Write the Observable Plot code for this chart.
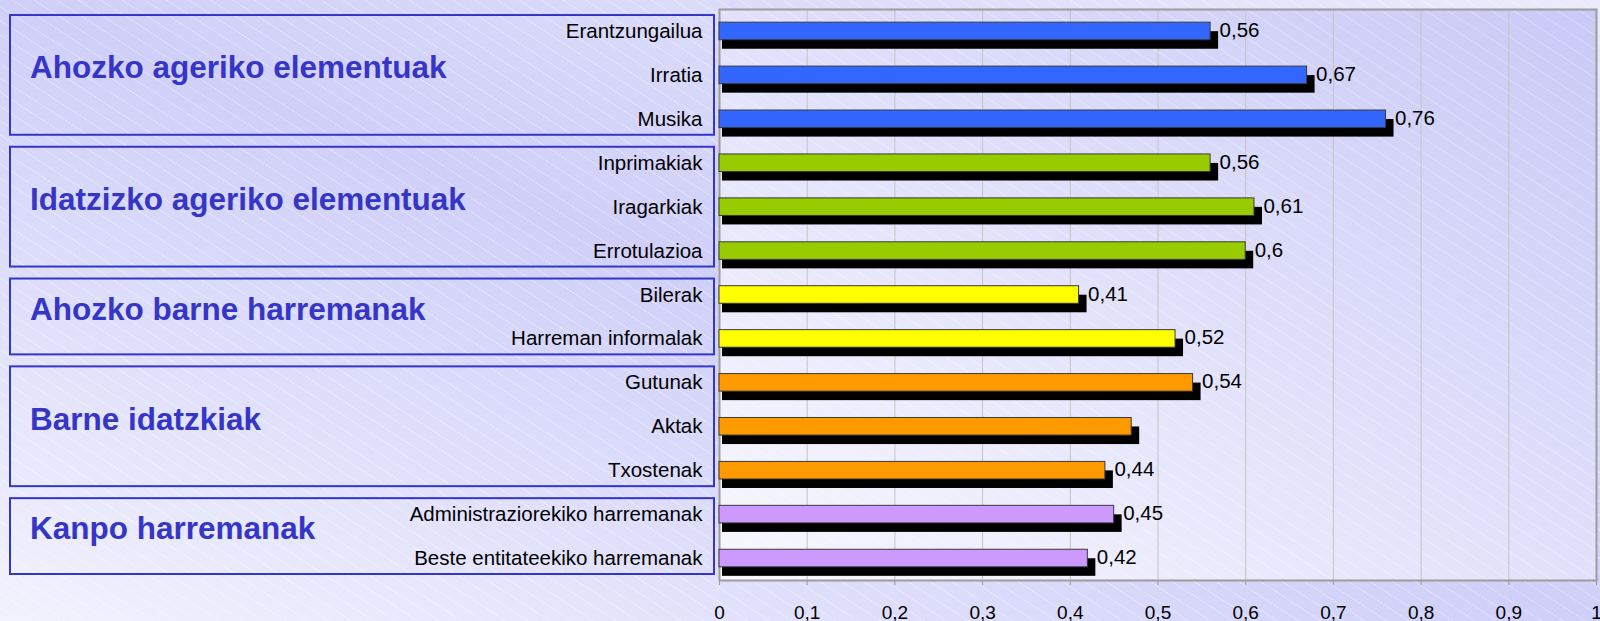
<!DOCTYPE html>
<html>
<head>
<meta charset="utf-8">
<script src="https://cdn.jsdelivr.net/npm/d3@7"></script>
<script src="https://cdn.jsdelivr.net/npm/@observablehq/plot@0.6"></script>
<style>
html, body { margin: 0; padding: 0; }
body {
  width: 1600px; height: 621px; overflow: hidden;
  background:
    repeating-linear-gradient(33deg, rgba(255,255,255,0) 0px, rgba(255,255,255,0) 11px, rgba(255,255,255,0.3) 11px, rgba(255,255,255,0.3) 12px),
    linear-gradient(to top right, #f2f2fe 0%, #cfcff9 50%, #ebebfc 100%);
}
#chart svg { display: block; }
</style>
</head>
<body>
<svg width="0" height="0" style="position:absolute">
  <defs>
    <linearGradient id="plotBg" x1="0" y1="1" x2="1" y2="0">
      <stop offset="0" stop-color="#f8f8ff"/>
      <stop offset="1" stop-color="#c9c9f7"/>
    </linearGradient>
    <pattern id="hatch" width="12" height="12" patternUnits="userSpaceOnUse" patternTransform="rotate(33)">
      <line x1="0" y1="0.5" x2="12" y2="0.5" stroke="white" stroke-opacity="0.28" stroke-width="1"/>
    </pattern>
  </defs>
</svg>
<div id="chart"></div>
<script>
// ---- data ----
const categories = [
  "Erantzungailua", "Irratia", "Musika",
  "Inprimakiak", "Iragarkiak", "Errotulazioa",
  "Bilerak", "Harreman informalak",
  "Gutunak", "Aktak", "Txostenak",
  "Administraziorekiko harremanak", "Beste entitateekiko harremanak"
];
const values = [0.56, 0.67, 0.76, 0.56, 0.61, 0.60, 0.41, 0.52, 0.54, 0.47, 0.44, 0.45, 0.42];
const valueLabels = ["0,56", "0,67", "0,76", "0,56", "0,61", "0,6", "0,41", "0,52", "0,54", "", "0,44", "0,45", "0,42"];
const groups = [
  "Ahozko ageriko elementuak",
  "Idatzizko ageriko elementuak",
  "Ahozko barne harremanak",
  "Barne idatzkiak",
  "Kanpo harremanak"
];
const groupOf = [
  "Ahozko ageriko elementuak", "Ahozko ageriko elementuak", "Ahozko ageriko elementuak",
  "Idatzizko ageriko elementuak", "Idatzizko ageriko elementuak", "Idatzizko ageriko elementuak",
  "Ahozko barne harremanak", "Ahozko barne harremanak",
  "Barne idatzkiak", "Barne idatzkiak", "Barne idatzkiak",
  "Kanpo harremanak", "Kanpo harremanak"
];
const groupColors = ["#3366ff", "#99cc00", "#ffff00", "#ff9900", "#cc99ff"];
const xTicks = [0, 0.1, 0.2, 0.3, 0.4, 0.5, 0.6, 0.7, 0.8, 0.9, 1];
const xTickLabels = ["0", "0,1", "0,2", "0,3", "0,4", "0,5", "0,6", "0,7", "0,8", "0,9", "1"];

const rows = categories.map((c, i) => ({category: c, value: values[i], label: valueLabels[i], group: groupOf[i]}));

const FONT = "'Liberation Sans', Arial, Helvetica, sans-serif";

// group boxes + titles (custom mark using the y band scale)
function groupBoxes(index, scales, values, dimensions) {
  const y = scales.y;
  const n = categories.length;
  const step = y.step ? y.step() : (dimensions.height - dimensions.marginTop - dimensions.marginBottom) / n;
  const bw = y.bandwidth ? y.bandwidth() : step * 0.4;
  const pad = (step - bw) / 2;
  const g = d3.create("svg:g");
  groups.forEach((name) => {
    const cats = categories.filter((c, i) => groupOf[i] === name);
    const top = y(cats[0]) - pad + 6;
    const bottom = y(cats[cats.length - 1]) + bw + pad - 6;
    const left = 10, right = dimensions.marginLeft - 5;
    g.append("rect")
      .attr("x", left).attr("y", top)
      .attr("width", right - left).attr("height", bottom - top)
      .attr("fill", "none").attr("stroke", "#3535cc").attr("stroke-width", 2);
    g.append("text")
      .attr("x", left + 20).attr("y", (top + bottom) / 2 - 8)
      .attr("dy", "0.36em")
      .attr("text-anchor", "start")
      .attr("font-family", FONT).attr("font-weight", "bold").attr("font-size", 31.5)
      .attr("fill", "#3535c8")
      .text(name);
  });
  return g.node();
}

const chart = Plot.plot({
  width: 1600,
  height: 621,
  marginLeft: 719,
  marginRight: 4,
  marginTop: 9,
  marginBottom: 41,
  style: {background: "transparent", fontFamily: FONT, overflow: "visible"},
  x: {domain: [0, 1]},
  y: {domain: categories, paddingInner: 0.6, paddingOuter: 0.3, round: false},
  color: {domain: groups, range: groupColors},
  marks: [
    Plot.frame({fill: "url(#plotBg)"}),
    Plot.frame({fill: "url(#hatch)"}),
    Plot.ruleX(xTicks, {stroke: "#c4c4c4", strokeWidth: 1, strokeOpacity: 1}),
    Plot.frame({stroke: "#9c9c9c", strokeWidth: 2}),
    Plot.axisX({
      ticks: xTicks,
      tickFormat: d => xTickLabels[xTicks.indexOf(d)],
      tickSize: 5, tickPadding: 20, fontSize: 19,
      stroke: "#9c9c9c", fill: "black", label: null
    }),
    Plot.axisY({tickSize: 0, tickPadding: 17, fontSize: 20.5, fill: "black", label: null}),
    groupBoxes,
    Plot.barX(rows, {x: "value", y: "category", fill: "black", dx: 8, dy: 9, insetLeft: -5}),
    Plot.barX(rows, {x: "value", y: "category", fill: "group", stroke: "#3a3a3a", strokeWidth: 1}),
    Plot.text(rows.filter(d => d.label), {
      x: "value", y: "category", text: "label",
      dx: 9, dy: -1, textAnchor: "start", fontSize: 20.5, fill: "black"
    })
  ]
});
document.getElementById("chart").appendChild(chart);
</script>
</body>
</html>
